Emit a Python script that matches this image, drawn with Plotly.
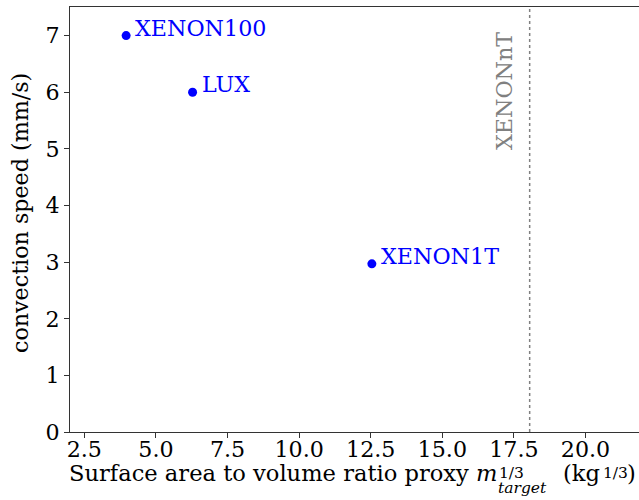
import plotly.graph_objects as go

# ---- data ----
experiments = ["XENON100", "LUX", "XENON1T"]
mass_cuberoot = [3.96, 6.28, 12.54]      # m_target^(1/3) in kg^(1/3)
conv_speed = [7.0, 6.0, 2.97]            # mm/s
future_name = "XENONnT"
future_mass_cuberoot = 18.05

x_ticks = [2.5, 5.0, 7.5, 10.0, 12.5, 15.0, 17.5, 20.0]
y_ticks = [0, 1, 2, 3, 4, 5, 6, 7]

FONT = "DejaVu Serif"
FS = 22.2
FS_XLAB = 22.6
SMALL = 15.5

W, H = 639, 500
PLOT_L, PLOT_R, PLOT_T, PLOT_B = 70, 639, 7, 432   # screen pixels
ML, MR, MT, MB = PLOT_L, W - PLOT_R, PLOT_T, H - PLOT_B
PW = PLOT_R - PLOT_L
PH = PLOT_B - PLOT_T
PX_PER_Y = 56.63
PX_PER_X = 28.64


def px2paper_x(px):
    return (px - PLOT_L) / PW


def px2paper_y(py):
    return (PLOT_B - py) / PH


fig = go.Figure()
fig.add_trace(go.Scatter(
    x=mass_cuberoot, y=conv_speed, mode="markers",
    marker=dict(color="#0000ff", size=9),
    showlegend=False, hoverinfo="skip", cliponaxis=False,
))

annotations = []
for name, xv, yv in zip(experiments, mass_cuberoot, conv_speed):
    annotations.append(dict(
        x=xv, y=yv, xref="x", yref="y", text=name, showarrow=False,
        xanchor="left", yanchor="bottom", xshift=8, yshift=-6, borderpad=0,
        font=dict(family=FONT, size=FS, color="#0000ff"),
    ))

# XENONnT label (rotated)
annotations.append(dict(
    x=px2paper_x(504), y=px2paper_y(91), xref="paper", yref="paper",
    text=future_name, showarrow=False, textangle=-90,
    xanchor="center", yanchor="middle", borderpad=0,
    font=dict(family=FONT, size=FS, color="#808080"),
))

# y-axis title
annotations.append(dict(
    x=px2paper_x(20), y=px2paper_y(213), xref="paper", yref="paper",
    text="convection speed (mm/s)", showarrow=False, textangle=-90,
    xanchor="center", yanchor="middle", borderpad=0,
    font=dict(family=FONT, size=FS, color="black"),
))

# x-axis title pieces (m_target^{1/3} stacked sub/superscript)
base_y = 481.7
desc = 0.236


def bottom_shift(baseline, size):
    return -((baseline + desc * size) - PLOT_B)


xl_parts = [
    ("Surface area to volume ratio proxy <i>m</i>", 498.5, "right", FS_XLAB, base_y),
    ("1/3", 497.5, "left", SMALL, 479.5),
    ("<i>target</i>", 497, "left", SMALL, 494),
    ("(kg", 561.5, "left", FS_XLAB, base_y),
    ("1/3", 601.5, "left", SMALL, 479.5),
    (")", 625.5, "left", FS_XLAB, base_y),
]
for txt, px, anchor, size, bl in xl_parts:
    annotations.append(dict(
        x=px2paper_x(px), y=0, xref="paper", yref="paper", text=txt,
        showarrow=False, xanchor=anchor, yanchor="bottom",
        yshift=bottom_shift(bl, size), borderpad=0,
        font=dict(family=FONT, size=size, color="black"),
    ))

fig.add_shape(
    type="line", xref="x", yref="paper",
    x0=future_mass_cuberoot, x1=future_mass_cuberoot, y0=0, y1=1,
    line=dict(color="#808080", width=1.5, dash="dot"),
)

axis_common = dict(
    showgrid=False, zeroline=False, showline=True, linecolor="#333333",
    linewidth=1, ticks="outside", ticklen=5, tickwidth=1, tickcolor="#333333",
    tickfont=dict(family=FONT, size=FS, color="black"), automargin=False,
)

x_min = 2.0
x_max = x_min + PW / PX_PER_X
y_max = PH / PX_PER_Y

fig.update_layout(
    width=W, height=H,
    margin=dict(l=ML, r=MR, t=MT, b=MB, pad=0),
    paper_bgcolor="white", plot_bgcolor="white",
    hovermode=False,
    xaxis=dict(range=[x_min, x_max], tickvals=x_ticks,
               ticktext=[f"{v:.1f}" for v in x_ticks], mirror=True,
               ticklabelstandoff=-8, **axis_common),
    yaxis=dict(range=[0, y_max], tickvals=y_ticks,
               ticktext=[str(v) for v in y_ticks], **axis_common),
    annotations=annotations,
)

fig.write_html(
    "out.html",
    config={"displayModeBar": False, "staticPlot": True},
    post_script="document.body.style.margin='0';"
                "document.body.style.overflow='hidden';"
                "document.documentElement.style.overflow='hidden';",
)
